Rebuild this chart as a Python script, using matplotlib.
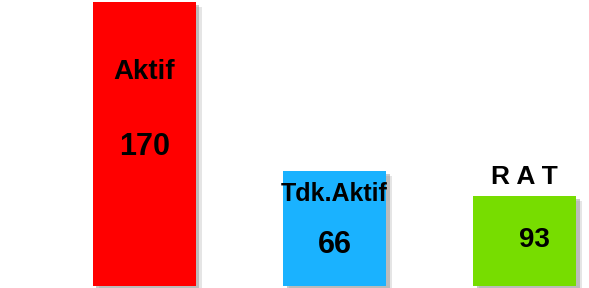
import matplotlib
matplotlib.use("Agg")
import matplotlib.pyplot as plt
import matplotlib.patheffects as pe

# data
categories = ["Aktif", "Tdk.Aktif", "R A T"]
values = [170, 66, 93]
bar_heights = [170, 69, 54]
colors = ["#FF0000", "#1AB2FF", "#77DD00"]

# label placement (data units) and font sizes
name_y = [128, 55, 65]
value_y = [83.5, 24.5, 27.5]
value_dx = [0.0, 0.0, 0.05]
name_size = [20, 18, 19]
value_size = [22, 22, 20]

plt.rcParams["font.family"] = ["Liberation Sans", "DejaVu Sans"]

fig = plt.figure(figsize=(5.89, 2.88), dpi=100)
ax = fig.add_axes([0, 0, 1, 1])

x = list(range(len(categories)))
shadow = [
    pe.SimplePatchShadow(offset=(4.0, -3.5), shadow_rgbFace="#aaaaaa", alpha=0.3),
    pe.SimplePatchShadow(offset=(2.5, -2.2), shadow_rgbFace="#888888", alpha=0.45),
    pe.Normal(),
]
bars = ax.bar(x, bar_heights, width=0.542, color=colors, linewidth=0)
for b in bars:
    b.set_path_effects(shadow)

for i in x:
    ax.text(i, name_y[i], categories[i], ha="center", va="center",
            fontsize=name_size[i], fontweight="bold", color="black")
    ax.text(i + value_dx[i], value_y[i], str(values[i]), ha="center", va="center",
            fontsize=value_size[i], fontweight="bold", color="black")

ax.set_xlim(-0.7605, 2.339)
ax.set_ylim(-1.2, 171.2)
ax.axis("off")

fig.savefig("out.png", dpi=100, facecolor="white")
